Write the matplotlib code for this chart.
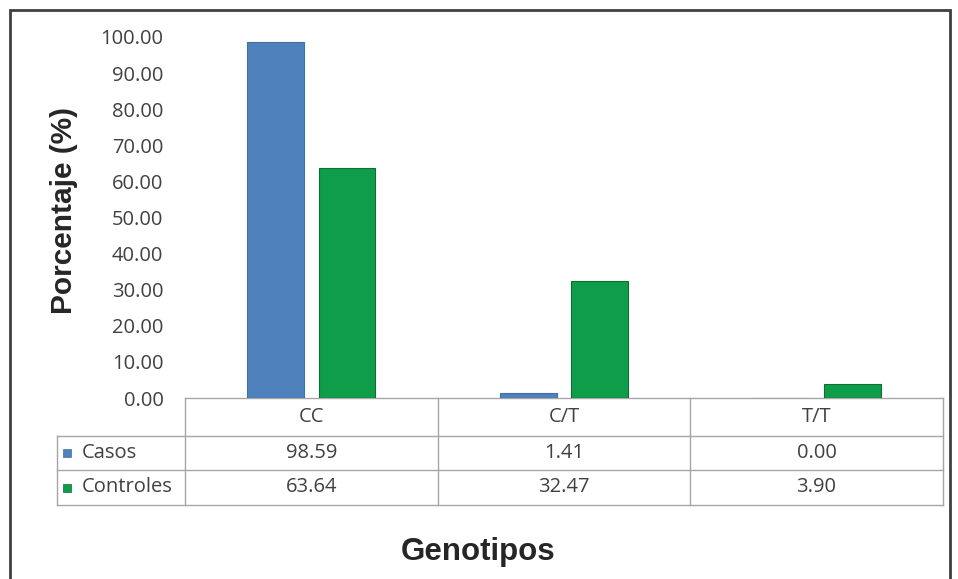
import matplotlib
matplotlib.use("Agg")
import matplotlib.pyplot as plt
import numpy as np
from matplotlib.patches import Rectangle
from matplotlib.lines import Line2D

categories = ["CC", "C/T", "T/T"]
series_names = ["Casos", "Controles"]
casos = [98.59, 1.41, 0.00]
controles = [63.64, 32.47, 3.90]
yticks = [0, 10, 20, 30, 40, 50, 60, 70, 80, 90, 100]

colors = ["#4f81bd", "#0f9d49"]
edges = ["#41719c", "#0b6e33"]

W, H = 958, 579
fig = plt.figure(figsize=(W / 100, H / 100), dpi=100)
plt.rcParams['font.family'] = ['Open Sans', 'DejaVu Sans']
FS = 14.5

x0, x1, ytop, ybot = 185, 943, 37, 398
ax = fig.add_axes([x0 / W, 1 - ybot / H, (x1 - x0) / W, (ybot - ytop) / H])

x = np.arange(len(categories))
bw = 0.225
off = 0.141
ax.bar(x - off, casos, bw, color=colors[0], edgecolor=edges[0], linewidth=0.8, zorder=3)
ax.bar(x + off, controles, bw, color=colors[1], edgecolor=edges[1], linewidth=0.8, zorder=3)
ax.set_xlim(-0.5, len(categories) - 0.5)
ax.set_ylim(0, 100)
ax.set_yticks(yticks)
ax.set_yticklabels([f"{v:.2f}" for v in yticks], fontsize=FS, color="#404040")
ax.tick_params(axis='y', length=0, pad=15.5)
ax.set_xticks([])
for s in ax.spines.values():
    s.set_visible(False)

fig.text(64 / W, 1 - 211 / H, "Porcentaje (%)", rotation=90, ha="center", va="center",
         fontsize=21.5, fontweight="bold", family=["Liberation Sans", "DejaVu Sans"],
         color="#262626")

# Table below the axes (axes fraction coordinates)
ph = ybot - ytop
pw = x1 - x0
def ay(py):
    return -(py - ybot) / ph
def axf(px):
    return (px - x0) / pw

row_edges = [398, 436, 470, 505]
col_edges = [185, 438, 690, 943]
left_x = 57
lc = "#a6a6a6"
tr = ax.transAxes
lines = []
lines.append(([axf(185), axf(943)], [ay(398), ay(398)]))
for r in row_edges[1:]:
    lines.append(([axf(left_x), axf(943)], [ay(r), ay(r)]))
for c in col_edges:
    lines.append(([axf(c), axf(c)], [ay(398), ay(505)]))
lines.append(([axf(left_x), axf(left_x)], [ay(436), ay(505)]))
for xs, ys in lines:
    ax.add_line(Line2D(xs, ys, transform=tr, color=lc, lw=1, clip_on=False))

tcolor = "#404040"
for i, cat in enumerate(categories):
    cx = axf((col_edges[i] + col_edges[i + 1]) / 2)
    ax.text(cx, ay((398 + 436) / 2), cat, transform=tr, ha="center", va="center",
            fontsize=FS, color=tcolor)
    for j, vals in enumerate([casos, controles]):
        ax.text(cx, ay((row_edges[j + 1] + row_edges[j + 2]) / 2), f"{vals[i]:.2f}",
                transform=tr, ha="center", va="center", fontsize=FS, color=tcolor)

for j, name in enumerate(series_names):
    cy = (row_edges[j + 1] + row_edges[j + 2]) / 2
    ax.add_patch(Rectangle((axf(63), ay(cy + 4)), 8 / pw, 8 / ph, transform=tr,
                           facecolor=colors[j], edgecolor=edges[j], lw=0.5, clip_on=False))
    ax.text(axf(82), ay(cy), name, transform=tr, ha="left", va="center",
            fontsize=FS, color=tcolor)

fig.text(478 / W, 1 - 552 / H, "Genotipos", ha="center", va="center", fontsize=22.5,
         fontweight="bold", family=["Liberation Sans", "DejaVu Sans"], color="#262626")

# outer border
fig.add_artist(Rectangle((9.5 / W, -0.01), (950 - 9.5) / W, 1 - 9.5 / H + 0.01,
                         transform=fig.transFigure, fill=False, edgecolor="#404040", lw=2))

fig.savefig("out.png", dpi=100)
